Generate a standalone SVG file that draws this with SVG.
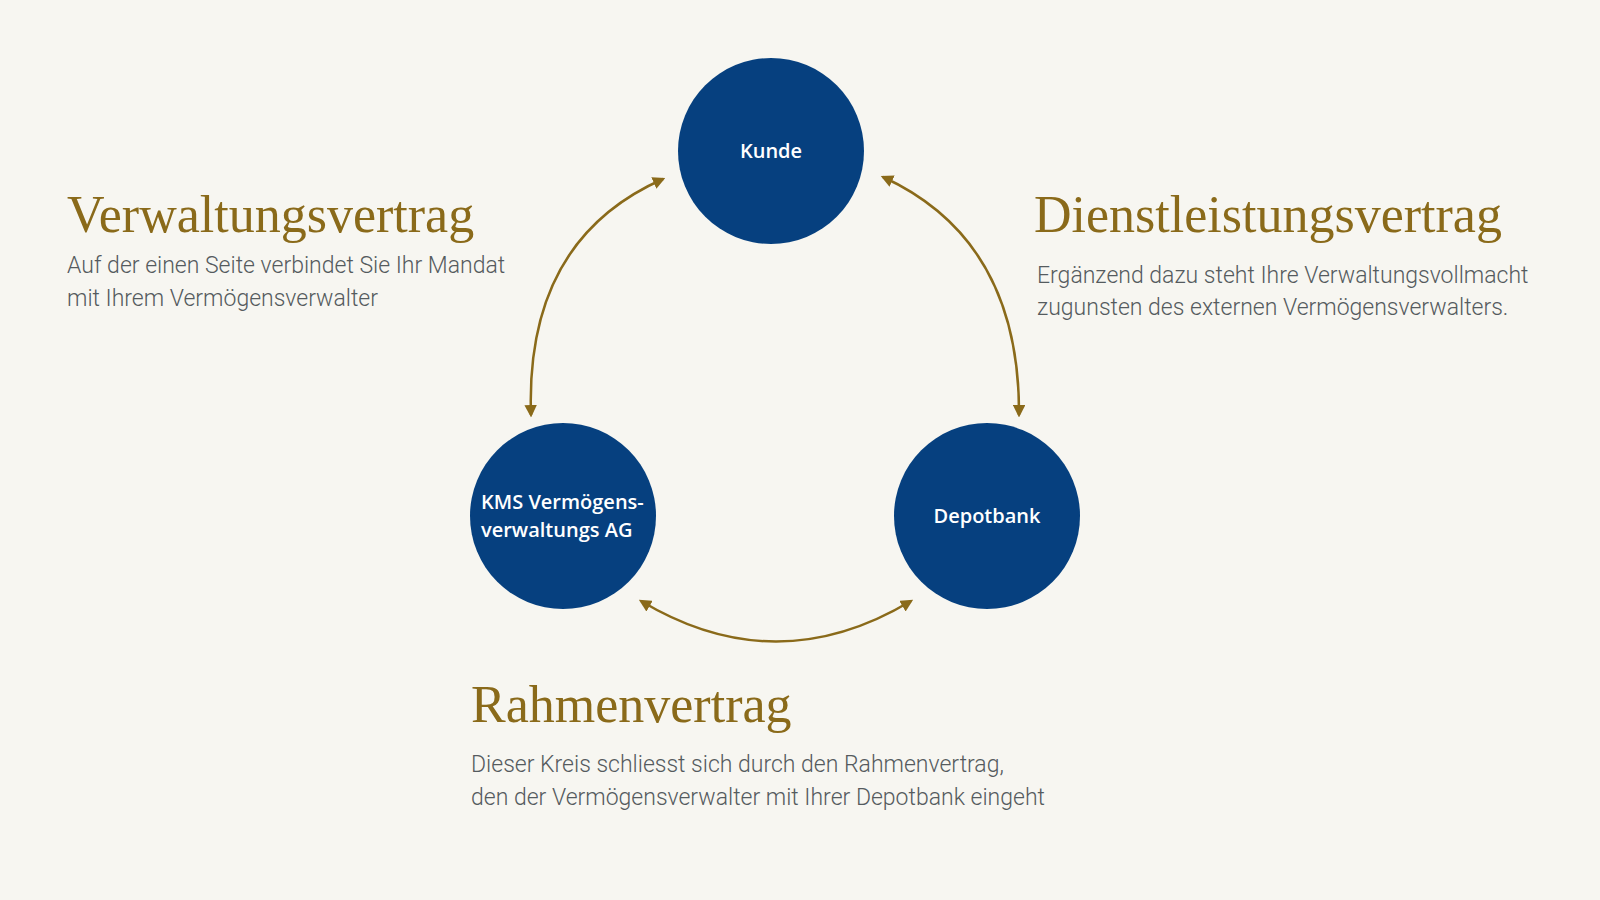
<svg xmlns="http://www.w3.org/2000/svg" width="1600" height="900" viewBox="0 0 1600 900">
<style>
.node{fill:#06407f}
.nt{fill:#fff;font-family:"Open Sans","Noto Sans",sans-serif;font-size:20px;font-weight:600}
.title{fill:#8a6a1a;font-family:"Liberation Serif","DejaVu Serif",serif;font-size:52px}
.body{fill:#555b5e;font-family:Roboto,"Noto Sans",sans-serif;font-weight:300;font-size:23px}
.conn{fill:none;stroke:#8a6a1a;stroke-width:2.5;marker-start:url(#ah);marker-end:url(#ah)}
</style>
<defs>
<marker id="ah" viewBox="0 0 10 10" refX="8" refY="5" markerWidth="5" markerHeight="5" orient="auto-start-reverse">
<path d="M0,0 L10,5 L0,10 z" fill="#8a6a1a"/>
</marker>
</defs>
<rect width="1600" height="900" fill="#f7f6f1"/>
<g id="connectors">
<path class="conn" d="M531,415 Q525,240 663,179"/>
<path class="conn" d="M883,177 Q1020,240 1019,415"/>
<path class="conn" d="M641,601 Q776,682 911,601"/>
</g>
<g id="kunde"><circle class="node" cx="771" cy="151" r="93"/><text class="nt" x="771" y="158" text-anchor="middle">Kunde</text></g>
<g id="kms"><circle class="node" cx="563" cy="516" r="93"/><text class="nt" x="481" y="509">KMS Vermögens-</text><text class="nt" x="481" y="537">verwaltungs AG</text></g>
<g id="depotbank"><circle class="node" cx="987" cy="516" r="93"/><text class="nt" x="987" y="523" text-anchor="middle">Depotbank</text></g>
<g id="verwaltungsvertrag">
<text class="title" x="67" y="232">Verwaltungsvertrag</text>
<text class="body" x="67" y="273">Auf der einen Seite verbindet Sie Ihr Mandat</text>
<text class="body" x="67" y="306">mit Ihrem Vermögensverwalter</text>
</g>
<g id="dienstleistungsvertrag">
<text class="title" x="1034" y="232">Dienstleistungsvertrag</text>
<text class="body" x="1037" y="283">Ergänzend dazu steht Ihre Verwaltungsvollmacht</text>
<text class="body" x="1037" y="315">zugunsten des externen Vermögensverwalters.</text>
</g>
<g id="rahmenvertrag">
<text class="title" x="471" y="722">Rahmenvertrag</text>
<text class="body" x="471" y="772">Dieser Kreis schliesst sich durch den Rahmenvertrag,</text>
<text class="body" x="471" y="805">den der Vermögensverwalter mit Ihrer Depotbank eingeht</text>
</g>
</svg>
